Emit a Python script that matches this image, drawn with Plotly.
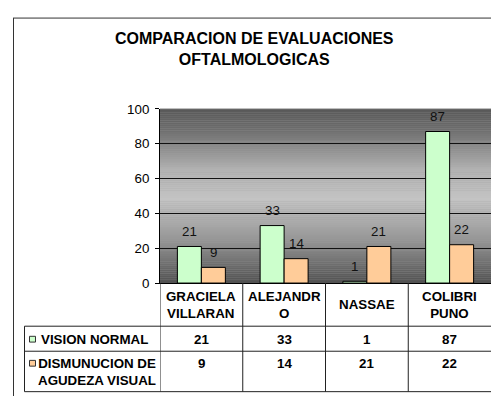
import plotly.graph_objects as go

# ---- data ----
categories = ["GRACIELA VILLARAN", "ALEJANDRO", "NASSAE", "COLIBRI PUNO"]
header_labels = ["GRACIELA<br>VILLARAN", "ALEJANDR<br>O", "NASSAE", "COLIBRI<br>PUNO"]
series_names = ["VISION NORMAL", "DISMUNUCION DE AGUDEZA VISUAL"]
table_series_labels = ["VISION NORMAL", "DISMUNUCION DE<br>AGUDEZA VISUAL"]
vision_normal = [21, 33, 1, 87]
disminucion = [9, 14, 21, 22]
y_ticks = [0, 20, 40, 60, 80, 100]
title_text = "COMPARACION DE EVALUACIONES<br>OFTALMOLOGICAS"

# ---- layout helpers (pixel -> paper) ----
W, H = 491, 404
def px(x):
    return x / W
def py(y):
    return 1 - y / H

PLOT_L, PLOT_T, PLOT_B = 160, 105.8, 286.7
FONT = "Liberation Sans, Arial, sans-serif"
FS = 13.33
LINE = "#222222"

fig = go.Figure()
series_vals = [vision_normal, disminucion]
colors = ["#ccffcc", "#ffcc99"]
for name, vals, col in zip(series_names, series_vals, colors):
    fig.add_trace(go.Bar(
        x=categories, y=vals, name=name,
        marker=dict(color=col, line=dict(color="#000000", width=1)),
    ))

shapes = []
# gradient background of plot area (style only)
N = 90
def grad(t):
    stops = [(0.0, 88), (0.12, 110), (0.35, 178), (0.52, 196), (0.75, 150), (1.0, 80)]
    for (t0, c0), (t1, c1) in zip(stops[:-1], stops[1:]):
        if t0 <= t <= t1:
            f = (t - t0) / (t1 - t0)
            return int(round(c0 + (c1 - c0) * f))
    return stops[-1][1]
for i in range(N):
    t = (i + 0.5) / N
    c = grad(t)
    shapes.append(dict(type="rect", xref="x domain", yref="y domain",
                       x0=0, x1=1, y0=1 - (i + 1.05) / N, y1=1 - i / N,
                       fillcolor=f"rgb({c},{c},{c})", line=dict(width=0), layer="below"))
# top border of plot area
shapes.append(dict(type="line", xref="x domain", yref="y", x0=0, x1=1, y0=100, y1=100,
                   line=dict(color="#7a7a7a", width=1), layer="above"))

# chart outer border
shapes.append(dict(type="line", xref="paper", yref="paper", x0=px(13.5), x1=px(13.5),
                   y0=py(11.5), y1=py(404), line=dict(color="#333333", width=1)))
shapes.append(dict(type="line", xref="paper", yref="paper", x0=px(13), x1=1,
                   y0=py(11.5), y1=py(11.5), line=dict(color="#333333", width=1)))

# data table grid
for b in [-0.5, 0.5, 1.5, 2.5]:
    shapes.append(dict(type="line", xref="x", yref="paper", x0=b, x1=b,
                       y0=py(PLOT_B), y1=py(399.5), line=dict(color=LINE, width=1)))
for yy in [331.5, 357.5, 399.5]:
    shapes.append(dict(type="line", xref="paper", yref="paper", x0=px(24.5), x1=1,
                       y0=py(yy), y1=py(yy), line=dict(color=LINE, width=1)))
shapes.append(dict(type="line", xref="paper", yref="paper", x0=px(24.5), x1=px(24.5),
                   y0=py(331.5), y1=py(399.5), line=dict(color=LINE, width=1)))
# legend keys in table
for col, yc in zip(colors, [345, 370]):
    shapes.append(dict(type="rect", xref="paper", yref="paper",
                       x0=px(29.5), x1=px(35.5), y0=py(yc + 3), y1=py(yc - 3),
                       fillcolor=col, line=dict(color="#333333", width=1)))

annotations = []
# title
annotations.append(dict(text=f"<b>{title_text}</b>", xref="paper", yref="paper",
                        x=px(254), y=py(44), xanchor="center", yanchor="middle",
                        showarrow=False, font=dict(family=FONT, size=16, color="#000")))
# data labels above bars
for k, (vals, shift) in enumerate(zip(series_vals, [-12, 12])):
    for cat, v in zip(categories, vals):
        annotations.append(dict(text=str(v), x=cat, y=v, xref="x", yref="y",
                                xshift=shift, yshift=15, showarrow=False,
                                xanchor="center", yanchor="middle",
                                font=dict(family=FONT, size=FS, color="#111")))
# table header (category names)
for cat, lab in zip(categories, header_labels):
    annotations.append(dict(text=f"<b>{lab}</b>", x=cat, y=py(309), xref="x", yref="paper",
                            showarrow=False, xanchor="center", yanchor="middle", align="center",
                            font=dict(family=FONT, size=FS, color="#000")))
# table values
for vals, yc in zip(series_vals, [345, 370]):
    for cat, v in zip(categories, vals):
        annotations.append(dict(text=f"<b>{v}</b>", x=cat, y=py(yc), xref="x", yref="paper",
                                showarrow=False, xanchor="center", yanchor="middle",
                                font=dict(family=FONT, size=FS, color="#000")))
# table row labels
annotations.append(dict(text=f"<b>{table_series_labels[0]}</b>", x=px(38.5), y=py(345),
                        xref="paper", yref="paper", showarrow=False, xanchor="left",
                        yanchor="middle", font=dict(family=FONT, size=FS, color="#000")))
annotations.append(dict(text=f"<b>{table_series_labels[1]}</b>", x=px(97), y=py(379.5),
                        xref="paper", yref="paper", showarrow=False, xanchor="center",
                        yanchor="middle", align="center",
                        font=dict(family=FONT, size=FS, color="#000")))

fig.update_layout(
    width=W, height=H, autosize=False,
    margin=dict(l=0, r=0, t=0, b=0),
    paper_bgcolor="white", plot_bgcolor="#a0a0a0",
    showlegend=False,
    barmode="group", bargap=0.42, bargroupgap=0,
    xaxis=dict(domain=[px(PLOT_L), 1], range=[-0.5, 3.5], showticklabels=False,
               showline=True, linecolor="#000", linewidth=1, ticks="", showgrid=False,
               fixedrange=True),
    yaxis=dict(domain=[py(PLOT_B), py(PLOT_T)], range=[0, 100], tickvals=y_ticks,
               ticks="outside", ticklen=4, tickcolor="#000", showline=True,
               linecolor="#000", linewidth=1, showgrid=True, gridcolor="#111111",
               gridwidth=1, zeroline=False, ticklabelstandoff=3,
               tickfont=dict(family=FONT, size=FS, color="#000"), fixedrange=True),
    shapes=shapes,
    annotations=annotations,
    font=dict(family=FONT),
)

fig.write_html(
    "out.html",
    config={"displayModeBar": False},
    post_script="document.body.style.margin='0';document.body.style.overflow='hidden';",
)
